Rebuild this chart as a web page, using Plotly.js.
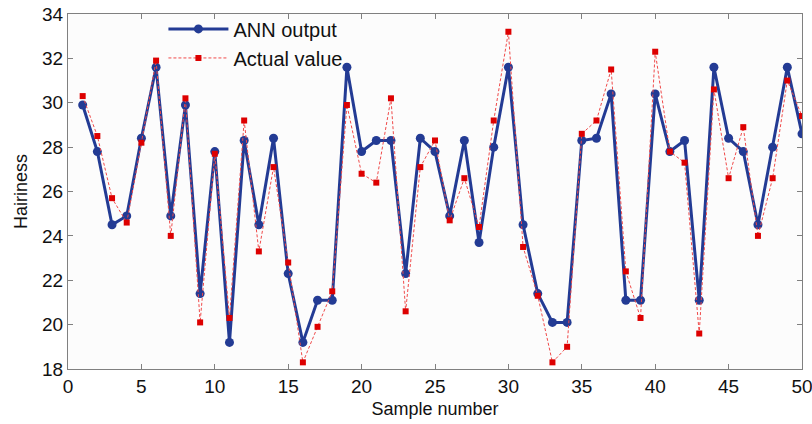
<!DOCTYPE html>
<html>
<head>
<meta charset="utf-8">
<script src="https://cdn.plot.ly/plotly-3.0.1.min.js"></script>
<style>html,body{margin:0;padding:0;background:#fff;}#chart{width:812px;height:424px;}</style>
</head>
<body>
<div id="chart"></div>
<script>
const sampleNumber = [1,2,3,4,5,6,7,8,9,10,11,12,13,14,15,16,17,18,19,20,21,22,23,24,25,26,27,28,29,30,31,32,33,34,35,36,37,38,39,40,41,42,43,44,45,46,47,48,49,50];
const annOutput = [29.9,27.8,24.5,24.9,28.4,31.6,24.9,29.9,21.4,27.8,19.2,28.3,24.5,28.4,22.3,19.2,21.1,21.1,31.6,27.8,28.3,28.3,22.3,28.4,27.8,24.9,28.3,23.7,28.0,31.6,24.5,21.4,20.1,20.1,28.3,28.4,30.4,21.1,21.1,30.4,27.8,28.3,21.1,31.6,28.4,27.8,24.5,28.0,31.6,28.6];
const actualValue = [30.3,28.5,25.7,24.6,28.2,31.9,24.0,30.2,20.1,27.7,20.3,29.2,23.3,27.1,22.8,18.3,19.9,21.5,29.9,26.8,26.4,30.2,20.6,27.1,28.3,24.7,26.6,24.4,29.2,33.2,23.5,21.3,18.3,19.0,28.6,29.2,31.5,22.4,20.3,32.3,27.8,27.3,19.6,30.6,26.6,28.9,24.0,26.6,31.0,29.4];
const xTicks = [0,5,10,15,20,25,30,35,40,45,50];
const yTicks = [18,20,22,24,26,28,30,32,34];

const traces = [
  {x: sampleNumber, y: annOutput, name: 'ANN output', mode: 'lines+markers',
   line: {color: '#233b94', width: 3}, marker: {color: '#233b94', size: 9, symbol: 'circle'}},
  {x: sampleNumber, y: actualValue, name: 'Actual value', mode: 'lines+markers',
   line: {color: '#f04a4a', width: 1, dash: '3px,2px'}, marker: {color: '#dd0000', size: 6, symbol: 'square'}}
];

const axisCommon = {
  showgrid: false, zeroline: false, showline: true, linecolor: '#808080', linewidth: 1,
  mirror: 'ticks', ticks: 'inside', ticklen: 5, tickcolor: '#808080',
  ticklabeloverflow: 'allow',
  tickfont: {family: 'Liberation Sans, Arial, sans-serif', size: 19, color: '#111'}
};

const layout = {
  width: 812, height: 424,
  margin: {l: 68, r: 10, t: 13, b: 55},
  paper_bgcolor: '#ffffff', plot_bgcolor: '#fcfcfc',
  showlegend: true,
  legend: {x: 0.13, y: 1.01, xanchor: 'left', yanchor: 'top', bgcolor: 'rgba(0,0,0,0)',
    font: {family: 'Liberation Sans, Arial, sans-serif', size: 20, color: '#111'},
    tracegroupgap: 0, itemwidth: 60},
  xaxis: Object.assign({}, axisCommon, {range: [0, 50], tickmode: 'array', tickvals: xTicks,
    ticktext: xTicks.map(String),
    title: {text: 'Sample number', standoff: 6, font: {family: 'Liberation Sans, Arial, sans-serif', size: 18, color: '#111'}}}),
  yaxis: Object.assign({}, axisCommon, {range: [18, 34], tickmode: 'array', tickvals: yTicks,
    ticktext: yTicks.map(String),
    title: {text: 'Hairiness', standoff: 9, font: {family: 'Liberation Sans, Arial, sans-serif', size: 18, color: '#111'}}})
};

Plotly.newPlot('chart', traces, layout, {displayModeBar: false, staticPlot: true});
</script>
</body>
</html>
